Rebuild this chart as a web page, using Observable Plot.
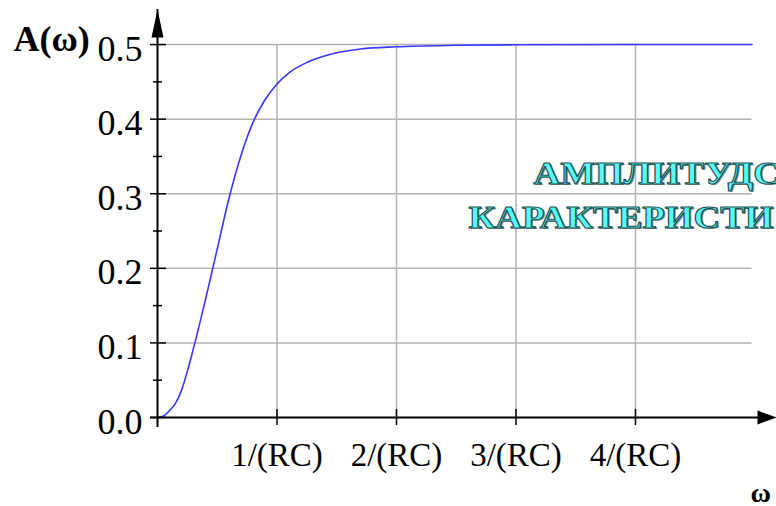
<!DOCTYPE html>
<html>
<head>
<meta charset="utf-8">
<script src="https://cdn.jsdelivr.net/npm/d3@7"></script>
<script src="https://cdn.jsdelivr.net/npm/@observablehq/plot@0.6"></script>
<style>
  html, body { margin: 0; padding: 0; background: #fff; overflow: hidden; }
</style>
</head>
<body>
<div id="chart"></div>
<script>
// ---- data ----
const omega = [0, 0.05, 0.1, 0.15, 0.2, 0.25, 0.3, 0.4, 0.5, 0.6, 0.7, 0.8, 0.9, 1.0, 1.1, 1.25, 1.45, 1.7, 2.0, 2.5, 3.0, 4.0, 4.975];
const amplitude = [0, 0.002, 0.009, 0.019, 0.036, 0.062, 0.092, 0.157, 0.226, 0.295, 0.352, 0.396, 0.426, 0.447, 0.462, 0.476, 0.487, 0.494, 0.497, 0.499, 0.4997, 0.5, 0.5];
const xTicks = [1, 2, 3, 4];
const xTickLabels = ["1/(RC)", "2/(RC)", "3/(RC)", "4/(RC)"];
const yMajor = [0, 0.1, 0.2, 0.3, 0.4, 0.5];
const yTickLabels = ["0.0", "0.1", "0.2", "0.3", "0.4", "0.5"];
const yMinor = [0.05, 0.15, 0.25, 0.35, 0.45];
const yGrid = [0.1, 0.2, 0.3, 0.4, 0.5];
const titleLines = ["АМПЛИТУДС", "КАРАКТЕРИСТИ"];
const yAxisLabel = "A(ω)";
const xAxisLabel = "ω";
const xMax = 5.18;   // end of the x axis arrow
const yMax = 0.547;  // end of the y axis arrow

const curve = omega.map((w, i) => ({w, a: amplitude[i]}));
const serif = "'Liberation Serif', 'Times New Roman', 'DejaVu Serif', serif";

const arrowUp = {draw(ctx) { ctx.moveTo(0, 0); ctx.lineTo(6, 28); ctx.lineTo(-6, 28); ctx.closePath(); }};
const arrowRight = {draw(ctx) { ctx.moveTo(0, 0); ctx.lineTo(-19, -7); ctx.lineTo(-19, 7); ctx.closePath(); }};

const titleStyle = {frameAnchor: "top-left", lineAnchor: "bottom", text: d => d, textAnchor: "start", fontSize: 31, fontWeight: "bold"};

const chart = Plot.plot({
  width: 776,
  height: 506,
  marginLeft: 157,
  marginRight: 0,
  marginTop: 9,
  marginBottom: 89,
  x: {domain: [0, xMax], axis: null},
  y: {domain: [0, yMax], axis: null},
  style: {fontFamily: serif, background: "#fff", color: "#000"},
  marks: [
    // grid
    Plot.ruleY(yGrid, {y: d => d, x1: 0, x2: omega[omega.length - 1], stroke: "#b3b3b3", strokeWidth: 1.5}),
    Plot.ruleX(xTicks, {x: d => d, y1: 0, y2: 0.5, stroke: "#b3b3b3", strokeWidth: 1.5}),
    // curve
    Plot.line(curve, {x: "w", y: "a", stroke: "#3838ff", strokeWidth: 1.6, curve: "monotone-x"}),
    // axes
    Plot.ruleX([0], {x: d => d, y1: 0, y2: yMax, insetTop: 10, stroke: "#000", strokeWidth: 2}),
    Plot.ruleY([0], {y: d => d, x1: 0, x2: xMax, insetLeft: -7, insetRight: 8, stroke: "#000", strokeWidth: 2}),
    Plot.dot([0], {x: 0, y: yMax, symbol: arrowUp, fill: "#000", stroke: null}),
    Plot.dot([0], {x: xMax, y: 0, symbol: arrowRight, fill: "#000", stroke: null}),
    // ticks
    Plot.ruleY(yMajor, {y: d => d, x1: 0, x2: 0, insetLeft: -7, insetRight: -9, stroke: "#000", strokeWidth: 1.5}),
    Plot.ruleY(yMinor, {y: d => d, x1: 0, x2: 0, insetLeft: -4, insetRight: -5, stroke: "#000", strokeWidth: 1.5}),
    Plot.ruleX(xTicks, {x: d => d, y1: 0, y2: 0, insetTop: -8, insetBottom: -8, stroke: "#000", strokeWidth: 1.5}),
    // tick labels
    Plot.text(yMajor, {x: 0, y: d => d, text: (d, i) => yTickLabels[i], textAnchor: "end", dx: -15, dy: 4.5, fontSize: 36, fill: "#000"}),
    Plot.text(xTicks, {x: d => d, y: 0, text: (d, i) => xTickLabels[i], textAnchor: "middle", dy: 37.5, fontSize: 33, fill: "#000"}),
    // axis labels
    Plot.text([yAxisLabel], {frameAnchor: "top-left", text: d => d, textAnchor: "start", dx: -144, dy: 16, fontSize: 36, fontWeight: "bold", fill: "#000"}),
    Plot.text([xAxisLabel], {frameAnchor: "bottom-right", text: d => d, textAnchor: "start", dx: -26, dy: 84, fontSize: 28, fontWeight: "bold", fill: "#000"}),
    // title: shadow + outlined cyan lettering
    Plot.text([titleLines[0]], {...titleStyle, dx: 377.5, dy: 175.5, fill: "#8a9a9a"}),
    Plot.text([titleLines[1]], {...titleStyle, dx: 312.5, dy: 219.5, fill: "#8a9a9a"}),
    Plot.text([titleLines[0]], {...titleStyle, dx: 376, dy: 174, fill: "#55ffff", stroke: "#1f4f4f", strokeWidth: 1.1, paintOrder: "normal"}),
    Plot.text([titleLines[1]], {...titleStyle, dx: 311, dy: 218, fill: "#55ffff", stroke: "#1f4f4f", strokeWidth: 1.1, paintOrder: "normal"})
  ]
});

document.getElementById("chart").appendChild(chart);

// widen the title lettering like the original (kept as real text)
d3.select(chart).selectAll("text").each(function() {
  if (!titleLines.includes(this.textContent)) return;
  const len = this.getComputedTextLength();
  this.setAttribute("textLength", (len * 1.19).toFixed(1));
  this.setAttribute("lengthAdjust", "spacingAndGlyphs");
});
</script>
</body>
</html>
